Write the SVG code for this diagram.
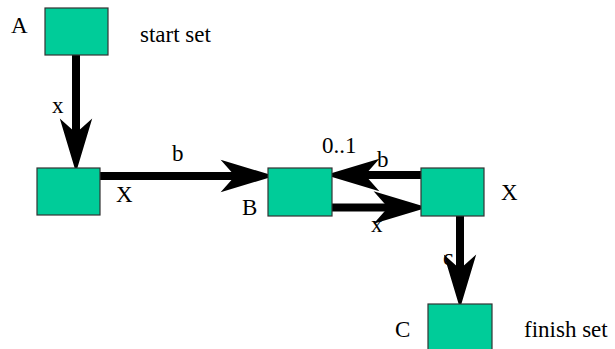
<svg xmlns="http://www.w3.org/2000/svg" width="615" height="349" viewBox="0 0 615 349">
  <style>
    .box { fill: #00cc99; stroke: #333333; stroke-width: 1.2; }
    .lbl { font-family: 'Liberation Serif', 'Times New Roman', Times, 'DejaVu Serif', serif; font-size: 23px; fill: #000000; }
    .edge { stroke: #000000; stroke-width: 8; fill: none; marker-end: url(#head); }
  </style>
  <defs>
    <!-- concave arrowhead; the line ends at the notch -->
    <marker id="head" markerUnits="userSpaceOnUse" markerWidth="60" markerHeight="40"
            viewBox="-14 -16 50 32" refX="0" refY="0" orient="auto" overflow="visible">
      <path d="M33,0 L-12,-13.5 L0,0 L-12,13.5 Z" fill="#000000"/>
    </marker>
  </defs>

  <rect width="615" height="349" fill="#ffffff"/>

  <!-- edge label drawn beneath its connector -->
  <text class="lbl" x="443" y="265">c</text>

  <g id="connectors">
    <line class="edge" x1="76" y1="55" x2="76" y2="133"/>
    <line class="edge" x1="100" y1="176" x2="235" y2="176"/>
    <line class="edge" x1="421" y1="175" x2="365" y2="175"/>
    <line class="edge" x1="332" y1="207.5" x2="388" y2="207.5"/>
    <line class="edge" x1="460" y1="216" x2="460" y2="269"/>
  </g>

  <g id="node-A">
    <rect class="box" x="45" y="8" width="63" height="47"/>
    <text class="lbl" x="11" y="33">A</text>
    <text class="lbl" x="140" y="42">start set</text>
  </g>

  <g id="node-X1">
    <rect class="box" x="37" y="168" width="63" height="47"/>
    <text class="lbl" x="116" y="202">X</text>
  </g>

  <g id="node-B">
    <rect class="box" x="268" y="168" width="64" height="48"/>
    <text class="lbl" x="242" y="215">B</text>
  </g>

  <g id="node-X2">
    <rect class="box" x="421" y="168" width="63" height="48"/>
    <text class="lbl" x="501" y="200">X</text>
  </g>

  <g id="node-C">
    <rect class="box" x="428" y="304" width="64" height="50"/>
    <text class="lbl" x="395" y="337">C</text>
    <text class="lbl" x="524" y="337">finish set</text>
  </g>

  <g id="edge-labels">
    <text class="lbl" x="52" y="113">x</text>
    <text class="lbl" x="172" y="161">b</text>
    <text class="lbl" x="322" y="153">0..1</text>
    <text class="lbl" x="377" y="167">b</text>
    <text class="lbl" x="371" y="232">x</text>
  </g>
</svg>
